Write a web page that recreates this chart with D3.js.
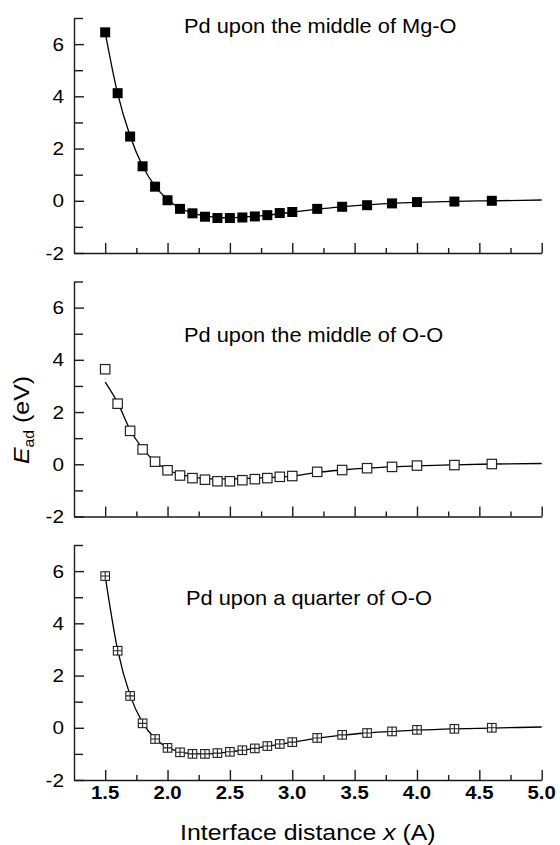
<!DOCTYPE html>
<html>
<head>
<meta charset="utf-8">
<script src="https://cdn.jsdelivr.net/npm/d3@7"></script>
<style>
  html, body { margin: 0; padding: 0; background: #fff; }
  svg { display: block; font-family: "Liberation Sans", Arial, Helvetica, sans-serif; }
</style>
</head>
<body>
<svg id="chart" width="560" height="845"></svg>
<script>
// Interface distances (A) at which the adsorption energy was computed
const distances = [1.5, 1.6, 1.7, 1.8, 1.9, 2.0, 2.1, 2.2, 2.3, 2.4, 2.5, 2.6, 2.7, 2.8, 2.9, 3.0, 3.2, 3.4, 3.6, 3.8, 4.0, 4.3, 4.6];

// Adsorption energies E_ad (eV) for each Pd site
const middleMgO = [6.45, 4.12, 2.46, 1.32, 0.54, 0.02, -0.31, -0.48, -0.61, -0.66, -0.66, -0.64, -0.60, -0.55, -0.47, -0.43, -0.31, -0.23, -0.17, -0.10, -0.05, -0.03, 0.00];
const middleOO  = [3.64, 2.32, 1.28, 0.57, 0.10, -0.23, -0.43, -0.53, -0.59, -0.65, -0.65, -0.61, -0.57, -0.53, -0.48, -0.45, -0.29, -0.22, -0.15, -0.10, -0.05, -0.03, 0.01];
const quarterOO = [5.81, 2.95, 1.22, 0.17, -0.43, -0.77, -0.94, -1.00, -1.00, -0.97, -0.92, -0.86, -0.79, -0.70, -0.62, -0.55, -0.39, -0.27, -0.20, -0.14, -0.08, -0.04, 0.00];

// Fitted curves, sampled along the distance axis
const fitDistances = [1.5, 1.6, 1.7, 1.8, 1.9, 2.0, 2.1, 2.2, 2.3, 2.4, 2.5, 2.6, 2.8, 3.0, 3.2, 3.4, 3.6, 3.8, 4.0, 4.3, 4.6, 5.0];
const fitMgO     = [6.45, 4.10, 2.48, 1.33, 0.56, 0.05, -0.28, -0.47, -0.58, -0.64, -0.65, -0.63, -0.55, -0.44, -0.32, -0.23, -0.16, -0.10, -0.06, -0.02, 0.00, 0.03];
const fitOO      = [3.15, 2.36, 1.32, 0.60, 0.10, -0.21, -0.39, -0.49, -0.54, -0.56, -0.56, -0.55, -0.51, -0.45, -0.31, -0.22, -0.15, -0.10, -0.06, -0.02, 0.01, 0.03];
const fitQuarter = [5.81, 2.98, 1.24, 0.20, -0.41, -0.75, -0.92, -0.99, -1.00, -0.97, -0.92, -0.86, -0.71, -0.56, -0.40, -0.28, -0.20, -0.14, -0.09, -0.04, -0.01, 0.03];

// Panel titles and tick labels
const panelTitles = ["Pd upon the middle of Mg-O", "Pd upon the middle of O-O", "Pd upon a quarter of O-O"];
const yTicks = [-2, 0, 2, 4, 6];
const yMinorTicks = [-1, 1, 3, 5, 7];
const xTicks = [1.5, 2.0, 2.5, 3.0, 3.5, 4.0, 4.5, 5.0];
const xMinorTicks = [1.75, 2.25, 2.75, 3.25, 3.75, 4.25, 4.75];
const xDomain = [1.25, 5.0];
const yDomain = [-2, 7];

const svg = d3.select("#chart");
const left = 74, right = 541.7;
const panelH = 235, panelStep = 263.5, firstTop = 18;
const axisColor = "#1a1a1a";
// title baseline offsets below each panel's top edge
const titleOffsets = [15, 60, 60];

const x = d3.scaleLinear().domain(xDomain).range([left, right]);

// text with a slight horizontal stretch
function label(parent, px, py, sx) {
  return parent.append("text")
    .attr("transform", `translate(${px},${py}) scale(${sx},1)`);
}

const panels = [
  { values: middleMgO, fit: fitMgO, marker: "filled" },
  { values: middleOO, fit: fitOO, marker: "open" },
  { values: quarterOO, fit: fitQuarter, marker: "plus" }
];

panels.forEach((p, i) => {
  const top = firstTop + i * panelStep;
  const bottom = top + panelH;
  const y = d3.scaleLinear().domain(yDomain).range([bottom, top]);
  const g = svg.append("g");

  // left axis, ticks pointing inward
  g.append("g").attr("transform", `translate(${left},0)`)
    .call(d3.axisLeft(y).tickValues(yTicks).tickSizeInner(-10).tickSizeOuter(0).tickFormat(""));
  g.append("g").attr("transform", `translate(${left},0)`)
    .call(d3.axisLeft(y).tickValues(yMinorTicks).tickSizeInner(-9).tickSizeOuter(0).tickFormat(""))
    .select(".domain").remove();

  // bottom axis, ticks pointing inward
  g.append("g").attr("transform", `translate(0,${bottom})`)
    .call(d3.axisBottom(x).tickValues(xTicks).tickSizeInner(-10).tickSizeOuter(0).tickFormat(""));
  g.append("g").attr("transform", `translate(0,${bottom})`)
    .call(d3.axisBottom(x).tickValues(xMinorTicks).tickSizeInner(-5).tickSizeOuter(0).tickFormat(""))
    .select(".domain").remove();

  g.selectAll(".domain, .tick line").attr("stroke", axisColor).attr("stroke-width", 1.4);

  // y tick labels
  yTicks.forEach(t => {
    label(g, left - 10, y(t) + 6.5, 1.12)
      .attr("text-anchor", "end")
      .attr("font-size", 18.5)
      .attr("fill", "#000")
      .text(t < 0 ? "-" + Math.abs(t) : String(t));
  });

  // panel title
  label(g, i === 2 ? 186 : 184, top + titleOffsets[i], 1.09)
    .attr("font-size", 20)
    .attr("fill", "#000")
    .text(panelTitles[i]);

  // fitted curve
  const line = d3.line()
    .x((d, k) => x(fitDistances[k]))
    .y(d => y(d))
    .curve(d3.curveMonotoneX);
  g.append("path")
    .datum(p.fit)
    .attr("d", line)
    .attr("fill", "none")
    .attr("stroke", "#000")
    .attr("stroke-width", 1.3);

  // data markers
  const pts = g.append("g").selectAll("g")
    .data(p.values)
    .join("g")
    .attr("transform", (d, k) => `translate(${x(distances[k])},${y(d)})`);

  if (p.marker === "filled") {
    pts.append("rect")
      .attr("x", -5).attr("y", -5).attr("width", 10).attr("height", 10)
      .attr("fill", "#000");
  } else if (p.marker === "open") {
    pts.append("rect")
      .attr("x", -4.7).attr("y", -4.7).attr("width", 9.4).attr("height", 9.4)
      .attr("fill", "#fff").attr("stroke", "#222").attr("stroke-width", 1.2);
  } else {
    pts.append("rect")
      .attr("x", -4.3).attr("y", -4.3).attr("width", 8.6).attr("height", 8.6)
      .attr("fill", "#fff").attr("stroke", "#222").attr("stroke-width", 1.1);
    pts.append("path")
      .attr("d", "M-4.3,0H4.3M0,-4.3V4.3")
      .attr("stroke", "#222").attr("stroke-width", 1.1);
  }

  // x tick labels only under the last panel
  if (i === panels.length - 1) {
    xTicks.forEach(t => {
      label(g, x(t), bottom + 19, 1.1)
        .attr("text-anchor", "middle")
        .attr("font-size", 18.5)
        .attr("font-weight", "bold")
        .attr("fill", "#000")
        .text(t.toFixed(1));
    });
  }
});

// x axis title
const xt = label(svg, (left + right) / 2, 840, 1.13)
  .attr("text-anchor", "middle")
  .attr("font-size", 22)
  .attr("fill", "#000");
xt.append("tspan").text("Interface distance ");
xt.append("tspan").attr("font-style", "italic").text("x");
xt.append("tspan").text(" (A)");

// y axis title
const yt = svg.append("text")
  .attr("transform", "translate(28.5,420) rotate(-90) scale(1.13,1)")
  .attr("text-anchor", "middle")
  .attr("font-size", 22)
  .attr("fill", "#000");
yt.append("tspan").attr("font-style", "italic").text("E");
yt.append("tspan").attr("font-size", 14).attr("dy", 5).text("ad");
yt.append("tspan").attr("dy", -5).text(" (eV)");
</script>
</body>
</html>
